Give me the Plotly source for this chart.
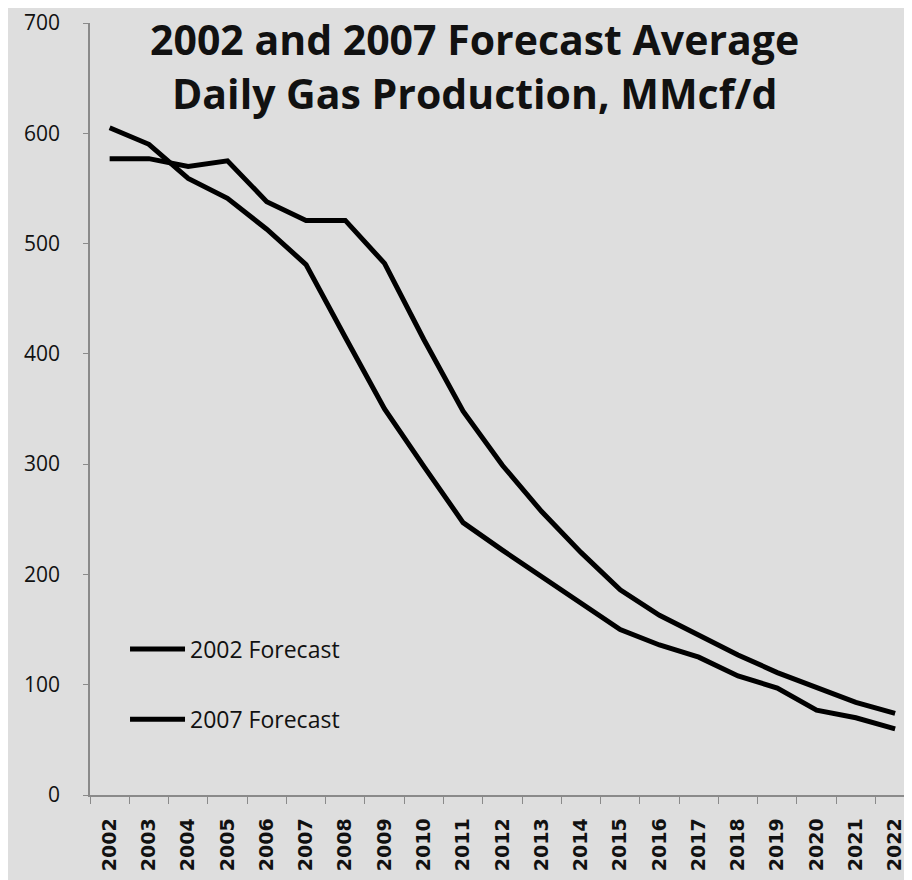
import plotly.graph_objects as go

years = [str(y) for y in range(2002, 2023)]
forecast_2002 = [605, 590, 559, 541, 513, 481, 415, 350, 298, 247, 222, 198, 175, 150, 136, 125, 108, 97, 77, 70, 60]
forecast_2007 = [577, 577, 570, 575, 538, 521, 521, 482, 413, 348, 299, 257, 220, 186, 163, 145, 127, 111, 97, 84, 74]
y_ticks = [0, 100, 200, 300, 400, 500, 600, 700]
title_lines = ["2002 and 2007 Forecast Average", "Daily Gas Production, MMcf/d"]

BG = "#dedede"
AXIS = "#8a8a8a"
TXT = "#111111"

fig = go.Figure()
fig.add_trace(go.Scatter(x=years, y=forecast_2002, mode="lines", name="2002 Forecast",
                         line=dict(color="black", width=5), legend="legend"))
fig.add_trace(go.Scatter(x=years, y=forecast_2007, mode="lines", name="2007 Forecast",
                         line=dict(color="black", width=5), legend="legend2"))

legend_common = dict(bgcolor="rgba(0,0,0,0)", borderwidth=0, xanchor="left", yanchor="middle",
                     itemwidth=55, font=dict(family="Open Sans", size=23, color=TXT))

fig.update_layout(
    width=912, height=880,
    showlegend=True,
    paper_bgcolor=BG, plot_bgcolor=BG,
    margin=dict(l=82, r=8, t=15, b=93),
    legend=dict(x=0.0426, y=0.189, **legend_common),
    legend2=dict(x=0.0426, y=0.098, **legend_common),
    xaxis=dict(type="category", range=[-0.5, 20.43], showgrid=False, zeroline=False,
               showline=True, linecolor=AXIS, linewidth=1.5, automargin=False,
               ticks="outside", tickson="boundaries", ticklen=7, tickcolor=AXIS,
               tickangle=-90, ticklabelstandoff=14,
               tickfont=dict(family="DejaVu Sans", size=19, color=TXT, weight="bold")),
    yaxis=dict(range=[0, 700], tickvals=y_ticks, showgrid=False, zeroline=False,
               showline=True, linecolor=AXIS, linewidth=1.5, automargin=False,
               ticks="outside", ticklen=5, tickcolor=AXIS, ticklabelstandoff=19,
               ticklabeloverflow="allow",
               tickfont=dict(family="Open Sans", size=21, color=TXT)),
)

title_y = [0.979, 0.909]
for text, ty in zip(title_lines, title_y):
    fig.add_annotation(text=f"<b>{text}</b>", xref="paper", yref="paper",
                       x=0.468, y=ty, xanchor="center", yanchor="middle", showarrow=False,
                       font=dict(family="Open Sans", size=41, color=TXT))

fig.write_html("out.html")
